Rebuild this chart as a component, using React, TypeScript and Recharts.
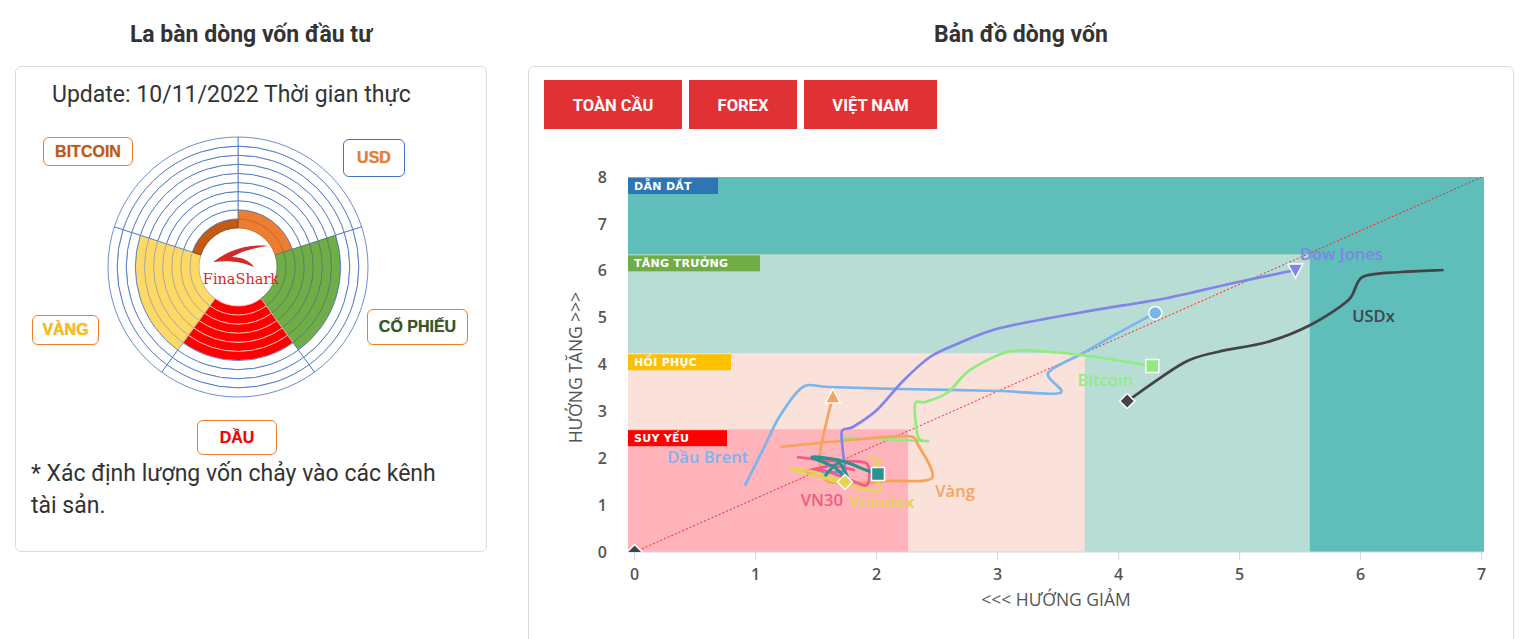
import React from 'react';
import {
  ComposedChart, Line, XAxis, YAxis, ReferenceArea, ReferenceLine,
  PieChart, Pie, Cell,
} from 'recharts';

// ---- compass (left panel) ----
const SECTORS = ['USD', 'CỔ PHIẾU', 'DẦU', 'VÀNG', 'BITCOIN'];
const SECTOR_LEVELS = [2, 7, 6, 7, 1];
const RINGS = [0, 1, 2, 3, 4, 5, 6, 7, 8, 9];

// ---- flow map (right panel) ----
const X_TICKS = [0, 1, 2, 3, 4, 5, 6, 7];
const Y_TICKS = [0, 1, 2, 3, 4, 5, 6, 7, 8];
const ZONE_NAMES = ['DẪN DẮT', 'TĂNG TRƯỞNG', 'HỒI PHỤC', 'SUY YẾU'];
const ZONE_X_MAX = [7.02, 5.58, 3.72, 2.26];
const ZONE_Y_MAX = [8, 6.35, 4.24, 2.62];

const dauBrent = [
  { x: 0.91, y: 1.41 }, { x: 1.059, y: 2.176 }, { x: 1.2, y: 2.9 }, { x: 1.39, y: 3.52 },
  { x: 1.614, y: 3.52 }, { x: 2.193, y: 3.477 }, { x: 3.02, y: 3.435 }, { x: 3.517, y: 3.392 },
  { x: 3.417, y: 3.819 }, { x: 3.707, y: 4.245 }, { x: 3.997, y: 4.672 }, { x: 4.303, y: 5.099 },
];
const bitcoin = [
  { x: 1.721, y: 2.432 }, { x: 2.069, y: 2.411 }, { x: 2.416, y: 2.368 }, { x: 2.342, y: 2.453 },
  { x: 2.317, y: 3.157 }, { x: 2.4, y: 3.2 }, { x: 2.582, y: 3.392 }, { x: 2.772, y: 3.883 },
  { x: 3.078, y: 4.267 }, { x: 3.351, y: 4.288 }, { x: 3.682, y: 4.203 }, { x: 3.972, y: 4.096 },
  { x: 4.278, y: 3.968 },
];
const vang = [
  { x: 1.2, y: 2.24 }, { x: 1.779, y: 2.389 }, { x: 2.251, y: 2.475 }, { x: 2.342, y: 2.283 },
  { x: 2.458, y: 1.579 }, { x: 2.11, y: 1.515 }, { x: 1.779, y: 1.472 }, { x: 1.58, y: 1.536 },
  { x: 1.531, y: 2.048 }, { x: 1.589, y: 2.816 }, { x: 1.638, y: 3.307 },
];
const dowJones = [
  { x: 1.473, y: 1.728 }, { x: 1.721, y: 1.728 }, { x: 1.721, y: 2.133 }, { x: 1.713, y: 2.581 },
  { x: 1.804, y: 2.667 }, { x: 2.002, y: 3.029 }, { x: 2.218, y: 3.648 }, { x: 2.441, y: 4.16 },
  { x: 2.664, y: 4.437 }, { x: 3.02, y: 4.779 }, { x: 3.707, y: 5.12 }, { x: 4.402, y: 5.419 },
  { x: 4.948, y: 5.739 }, { x: 5.461, y: 6.016 },
];
const usdx = [
  { x: 4.071, y: 3.221 }, { x: 4.535, y: 4.032 }, { x: 4.816, y: 4.267 }, { x: 5.23, y: 4.48 },
  { x: 5.585, y: 4.843 }, { x: 5.9, y: 5.376 }, { x: 6.016, y: 5.867 }, { x: 6.33, y: 5.973 },
  { x: 6.686, y: 6.016 },
];
const vn30 = [
  { x: 1.341, y: 2.027 }, { x: 1.614, y: 1.941 }, { x: 1.911, y: 1.899 }, { x: 1.92, y: 1.429 },
  { x: 1.763, y: 1.557 }, { x: 1.547, y: 1.749 }, { x: 1.407, y: 1.707 }, { x: 1.614, y: 1.835 },
  { x: 1.82, y: 1.749 },
];
const vnindex = [
  { x: 1.945, y: 2.027 }, { x: 2.027, y: 1.92 }, { x: 1.978, y: 1.749 }, { x: 2.027, y: 1.323 },
  { x: 1.862, y: 1.365 }, { x: 1.531, y: 1.6 }, { x: 1.283, y: 1.771 }, { x: 1.489, y: 1.707 },
  { x: 1.738, y: 1.493 },
];
const hnx = [
  { x: 1.572, y: 1.621 }, { x: 1.688, y: 1.899 }, { x: 1.763, y: 1.536 }, { x: 1.647, y: 1.813 },
  { x: 1.465, y: 2.027 }, { x: 1.713, y: 1.941 }, { x: 1.911, y: 1.749 }, { x: 2.011, y: 1.664 },
];
const origin = [{ x: 0, y: 0 }];

const SECTOR_FILL = ['#ed7d31', '#70ad47', '#ff0000', '#ffd966', '#c55a11'];
const SECTOR_LINE = ['#c8621f', '#4f7f62', '#ffc4c4', '#a9a894', '#8a3c0b'];
const ZONE_FILL = ['#5fbdba', '#b8ddd5', '#fae2db', '#ffb3ba'];
const TAG_FILL = ['#2e75b6', '#70ad47', '#ffc000', '#ff0000'];
const TAG_W = [90, 132, 103, 99];

const FONT = "'Open Sans', 'Noto Sans', sans-serif";

// plain catmull-rom spline through the points
const spline = (ctx: any) => {
  let pts: number[][] = [];
  return {
    areaStart() {},
    areaEnd() {},
    lineStart() { pts = []; },
    point(x: number, y: number) { pts.push([+x, +y]); },
    lineEnd() {
      if (!pts.length) return;
      ctx.moveTo(pts[0][0], pts[0][1]);
      const t = 0.15;
      for (let i = 0; i < pts.length - 1; i++) {
        const p0 = pts[i - 1] || pts[i];
        const p1 = pts[i];
        const p2 = pts[i + 1];
        const p3 = pts[i + 2] || p2;
        ctx.bezierCurveTo(
          p1[0] + (p2[0] - p0[0]) * t, p1[1] + (p2[1] - p0[1]) * t,
          p2[0] - (p3[0] - p1[0]) * t, p2[1] - (p3[1] - p1[1]) * t,
          p2[0], p2[1],
        );
      }
    },
  };
};

function marker(kind: string, cx: number, cy: number, color: string) {
  const s = { fill: color, stroke: '#fff', strokeWidth: 1.5 };
  if (kind === 'circle') return <circle cx={cx} cy={cy} r={6.5} {...s} />;
  if (kind === 'square') return <rect x={cx - 6.5} y={cy - 6.5} width={13} height={13} {...s} />;
  if (kind === 'diamond')
    return <polygon points={`${cx},${cy - 7.5} ${cx + 7.5},${cy} ${cx},${cy + 7.5} ${cx - 7.5},${cy}`} {...s} />;
  if (kind === 'triangle')
    return <polygon points={`${cx},${cy - 8} ${cx + 7.5},${cy + 6} ${cx - 7.5},${cy + 6}`} {...s} />;
  return <polygon points={`${cx - 7.5},${cy - 6} ${cx + 7.5},${cy - 6} ${cx},${cy + 8}`} {...s} />;
}

interface SeriesDef {
  name: string;
  data: { x: number; y: number }[];
  color: string;
  marker: string;
  markerAt: number;
  labelAt?: number;
  dx?: number;
  dy?: number;
  width?: number;
}

const SERIES: SeriesDef[] = [
  { name: 'Dầu Brent', data: dauBrent, color: '#7cb5ec', marker: 'circle', markerAt: -1, labelAt: 0, dx: -37, dy: -29 },
  { name: 'Bitcoin', data: bitcoin, color: '#90ed7d', marker: 'square', markerAt: -1, labelAt: -1, dx: -47, dy: 13 },
  { name: 'Vàng', data: vang, color: '#f7a35c', marker: 'triangle', markerAt: -1, labelAt: 4, dx: 23, dy: 13 },
  { name: 'Dow Jones', data: dowJones, color: '#8085e9', marker: 'triangle-down', markerAt: -1, labelAt: -1, dx: 46, dy: -17 },
  { name: 'USDx', data: usdx, color: '#434348', marker: 'diamond', markerAt: 0, labelAt: 5, dx: 25, dy: 15 },
  { name: 'VN30', data: vn30, color: '#f15c80', marker: 'none', markerAt: 99, labelAt: 5, dx: 0, dy: 29 },
  { name: 'Vnindex', data: vnindex, color: '#e4d354', marker: 'diamond', markerAt: -1, labelAt: -1, dx: 37, dy: 19 },
  { name: '', data: hnx, color: '#2b908f', marker: 'square', markerAt: -1, width: 3.2 },
  { name: '', data: origin, color: '#434348', marker: 'diamond', markerAt: 0 },
];

const makeDot = (s: SeriesDef) => (p: any) => {
  const { cx, cy, index } = p;
  const n = s.data.length;
  const mi = s.markerAt < 0 ? n - 1 : s.markerAt;
  const li = s.labelAt === undefined ? -99 : s.labelAt < 0 ? n - 1 : s.labelAt;
  return (
    <g key={`${s.color}-${index}`}>
      {index === mi && s.marker !== 'none' ? marker(s.marker, cx, cy, s.color) : null}
      {index === li && s.name ? (
        <text x={cx + (s.dx || 0)} y={cy + (s.dy || 0)} textAnchor="middle" dominantBaseline="central"
          fill={s.color} fontSize={16.5} fontFamily={FONT} fontWeight={600}>
          {s.name}
        </text>
      ) : null}
    </g>
  );
};

const zoneTag = (i: number) => (p: any) => {
  const vb = p.viewBox || {};
  return (
    <g>
      <rect x={vb.x} y={vb.y + 1} width={TAG_W[i]} height={16} fill={TAG_FILL[i]} />
      <text x={vb.x + 6} y={vb.y + 13} fill="#fff" fontSize={11} fontWeight="bold"
        fontFamily="'DejaVu Sans', sans-serif" letterSpacing={0.3}>
        {ZONE_NAMES[i]}
      </text>
    </g>
  );
};

function FlowMap() {
  return (
    <ComposedChart width={960} height={452} margin={{ top: 17, right: 16, left: 0, bottom: 0 }}>
      <XAxis
        type="number"
        dataKey="x"
        domain={[-0.055, 7.02]}
        ticks={X_TICKS}
        allowDataOverflow
        height={60}
        stroke="#ccd6eb"
        tickSize={8}
        tickMargin={9}
        tick={{ fill: '#555', fontSize: 16, fontFamily: FONT, fontWeight: 600 }}
        label={(p: any) => {
          const vb = p.viewBox || {};
          return (
            <text x={vb.x + vb.width / 2} y={vb.y + 54} textAnchor="middle" fill="#555"
              fontSize={17.5} fontFamily={FONT} fontWeight={500}>
              {'<<< HƯỚNG GIẢM'}
            </text>
          );
        }}
      />
      <YAxis
        type="number"
        dataKey="y"
        domain={[0, 8]}
        ticks={Y_TICKS}
        allowDataOverflow
        width={88}
        axisLine={false}
        tickLine={false}
        tickSize={6}
        tickMargin={15}
        tick={{ fill: '#555', fontSize: 16, fontFamily: FONT, fontWeight: 600 }}
        label={(p: any) => {
          const vb = p.viewBox || {};
          const x = vb.x + 35;
          const y = vb.y + vb.height / 2 + 3;
          return (
            <text x={x} y={y} transform={`rotate(-90 ${x} ${y})`} textAnchor="middle"
              dominantBaseline="central" fill="#555" fontSize={17.5} fontFamily={FONT} fontWeight={500}>
              {'HƯỚNG TĂNG >>>'}
            </text>
          );
        }}
      />
      {ZONE_NAMES.map((z, i) => (
        <ReferenceArea
          key={z}
          x1={-0.055}
          x2={ZONE_X_MAX[i]}
          y1={0}
          y2={ZONE_Y_MAX[i]}
          fill={ZONE_FILL[i]}
          fillOpacity={1}
          stroke="none"
          label={zoneTag(i)}
        />
      ))}
      <ReferenceLine
        segment={[{ x: 0, y: 0 }, { x: 7.02, y: 8.02 }]}
        stroke="#ff2020"
        strokeWidth={1}
        strokeDasharray="2 2"
        ifOverflow="hidden"
      />
      {SERIES.map((s, i) => (
        <Line
          key={i}
          data={s.data}
          dataKey="y"
          type={spline as any}
          stroke={s.color}
          strokeWidth={s.width || 2.7}
          dot={makeDot(s)}
          activeDot={false}
          isAnimationActive={false}
        />
      ))}
    </ComposedChart>
  );
}

function Compass() {
  const rw = (130 - 39) / RINGS.length;
  const cells = SECTORS.map((name) => ({ name, value: 1 }));
  return (
    <PieChart width={280} height={280} margin={{ top: 0, right: 0, bottom: 0, left: 0 }}>
      {RINGS.map((r) => (
        <Pie
          key={r}
          data={cells}
          dataKey="value"
          cx={140}
          cy={140}
          innerRadius={39 + r * rw}
          outerRadius={39 + (r + 1) * rw}
          startAngle={90}
          endAngle={-270}
          isAnimationActive={false}
        >
          {cells.map((c, i) => {
            const on = SECTOR_LEVELS[i] > r;
            return (
              <Cell
                key={c.name}
                fill={on ? SECTOR_FILL[i] : '#fff'}
                stroke={on ? SECTOR_LINE[i] : '#4472c4'}
                strokeWidth={0.8}
              />
            );
          })}
        </Pie>
      ))}
    </PieChart>
  );
}

const tagBox = (left: number, top: number, w: number, h: number, border: string): React.CSSProperties => ({
  position: 'absolute', left, top, width: w, height: h, boxSizing: 'border-box',
  border: `1px solid ${border}`, borderRadius: 6, display: 'flex', alignItems: 'center',
  justifyContent: 'center', fontFamily: "'Liberation Sans', Arial, sans-serif", fontWeight: 700,
  fontSize: 16, textShadow: '0 0 1px rgba(0,0,0,0.35)', background: '#fff',
});

const btn = (left: number, w: number): React.CSSProperties => ({
  position: 'absolute', left, top: 80, width: w, height: 49, background: '#e03234', color: '#fff',
  display: 'flex', alignItems: 'center', justifyContent: 'center', fontWeight: 700, fontSize: 16.5,
  paddingTop: 2, boxSizing: 'border-box',
});

export default function App() {
  return (
    <div style={{ position: 'absolute', left: 0, top: 0, width: 1534, height: 639, overflow: 'hidden',
      background: '#fff', fontFamily: 'Roboto, sans-serif', color: '#333' }}>
      <div style={{ position: 'absolute', left: 15, width: 472, top: 23, textAlign: 'center',
        fontWeight: 700, fontSize: 23, lineHeight: '24px' }}>
        La bàn dòng vốn đầu tư
      </div>
      <div style={{ position: 'absolute', left: 528, width: 986, top: 23, textAlign: 'center',
        fontWeight: 700, fontSize: 23, lineHeight: '24px' }}>
        Bản đồ dòng vốn
      </div>

      {/* left card */}
      <div style={{ position: 'absolute', left: 15, top: 66, width: 472, height: 486, boxSizing: 'border-box',
        border: '1px solid #dcdcdc', borderRadius: 6 }} />
      <div style={{ position: 'absolute', left: 52, top: 83, fontSize: 23, lineHeight: '24px', whiteSpace: 'nowrap' }}>
        Update: 10/11/2022 Thời gian thực
      </div>
      <div style={{ position: 'absolute', left: 98, top: 127 }}>
        <Compass />
      </div>
      <svg style={{ position: 'absolute', left: 190, top: 235 }} width={100} height={60}>
        <path d="M23,27 C40,14 58,9 78,11 C62,13 50,17 42,22 C52,22 60,26 64,32 C52,27 40,25 23,27 Z" fill="#d42a2a" />
        <text x={51} y={49} textAnchor="middle" fill="#d42a2a" fontSize={14.5}
          fontFamily="'DejaVu Serif', 'Liberation Serif', serif">FinaShark</text>
      </svg>
      <div style={{ ...tagBox(43, 137, 90, 29, '#ed7d31'), color: '#c55a11' }}>BITCOIN</div>
      <div style={{ ...tagBox(343, 139, 62, 38, '#4472c4'), color: '#ed7d31' }}>USD</div>
      <div style={{ ...tagBox(367, 309, 101, 36, '#ed7d31'), color: '#375623' }}>CỔ PHIẾU</div>
      <div style={{ ...tagBox(32, 315, 67, 30, '#ed7d31'), color: '#ffc000' }}>VÀNG</div>
      <div style={{ ...tagBox(197, 420, 80, 35, '#ed7d31'), color: '#ff0000' }}>DẦU</div>
      <div style={{ position: 'absolute', left: 31, top: 458, fontSize: 23, lineHeight: '32px' }}>
        * Xác định lượng vốn chảy vào các kênh<br />tài sản.
      </div>

      {/* right card */}
      <div style={{ position: 'absolute', left: 528, top: 66, width: 986, height: 600, boxSizing: 'border-box',
        border: '1px solid #dcdcdc', borderRadius: 6 }} />
      <div style={btn(544, 138)}>TOÀN CẦU</div>
      <div style={btn(689, 108)}>FOREX</div>
      <div style={btn(804, 133)}>VIỆT NAM</div>
      <div style={{ position: 'absolute', left: 540, top: 160 }}>
        <FlowMap />
      </div>
    </div>
  );
}
